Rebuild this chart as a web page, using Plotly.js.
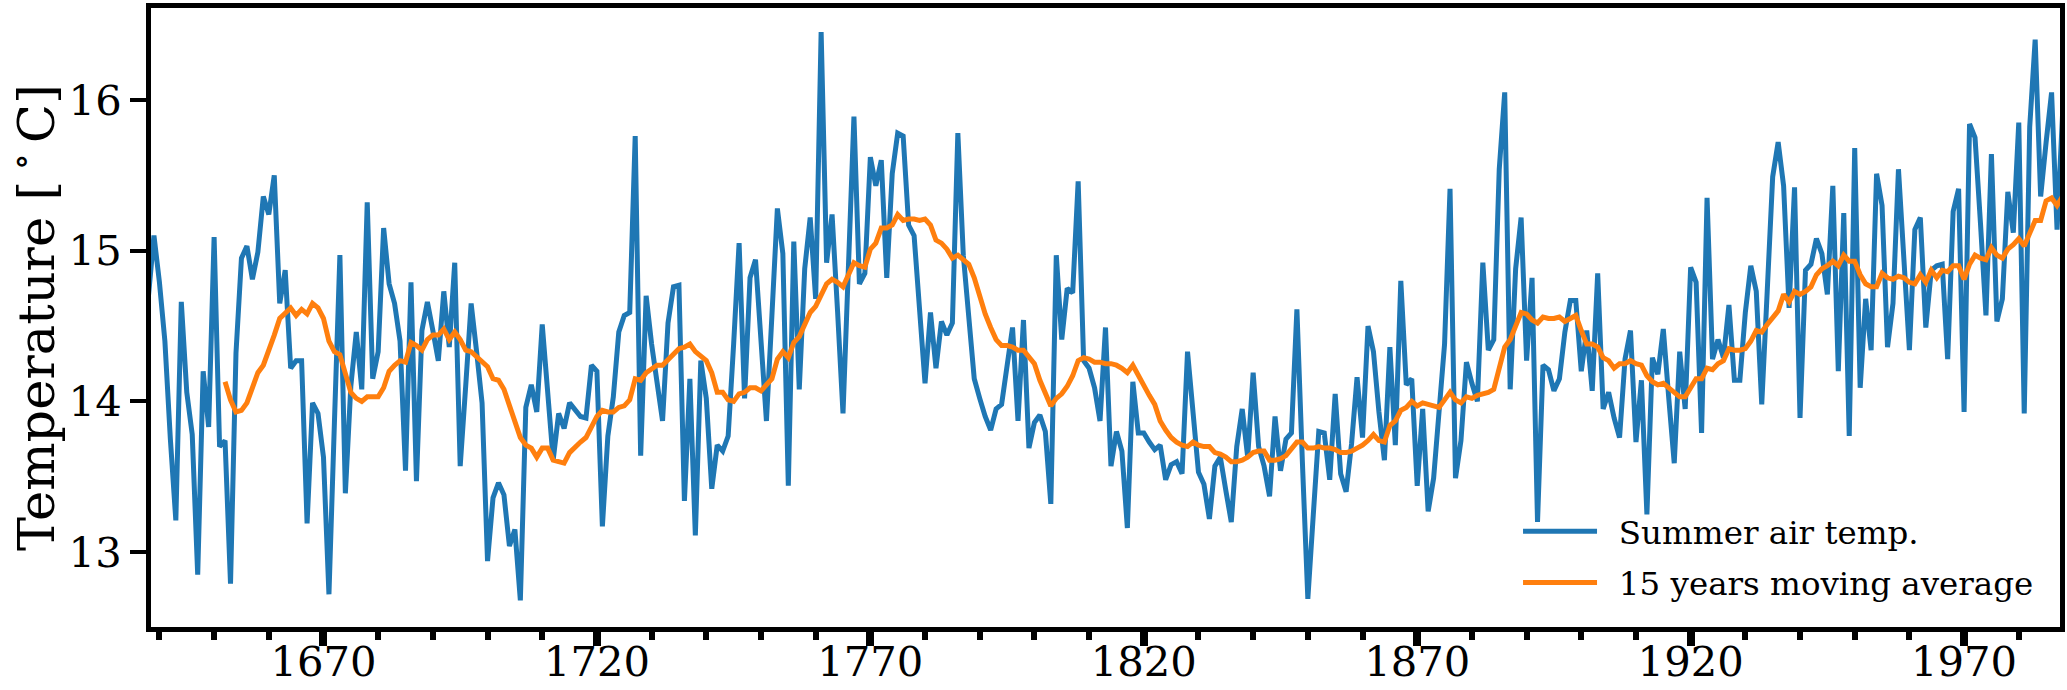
<!DOCTYPE html>
<html><head><meta charset="utf-8">
<script src="https://cdn.plot.ly/plotly-3.0.1.min.js"></script>
<style>html,body{margin:0;padding:0;background:#fff}#chart{width:2067px;height:690px}</style>
</head><body><div id="chart"></div>
<script>
// Summer air temperature, yearly values starting in 1638
const tempStartYear = 1638;
const summerAirTemp = [
14.70,15.10,14.79,14.40,13.75,13.21,14.66,14.06,13.78,12.85,
14.20,13.83,15.09,13.70,13.74,12.79,14.32,14.95,15.03,14.81,
14.99,15.36,15.24,15.50,14.65,14.87,14.22,14.27,14.27,13.19,
13.99,13.92,13.63,12.72,13.86,14.97,13.39,14.10,14.46,14.08,
15.32,14.15,14.33,15.15,14.78,14.65,14.40,13.54,14.79,13.47,
14.47,14.66,14.47,14.27,14.73,14.36,14.92,13.57,14.10,14.65,
14.33,13.99,12.94,13.36,13.46,13.38,13.04,13.15,12.68,13.96,
14.11,13.93,14.51,14.05,13.61,13.92,13.82,13.99,13.95,13.90,
13.89,14.24,14.20,13.17,13.77,14.03,14.46,14.57,14.59,15.76,
13.64,14.70,14.38,14.12,13.87,14.52,14.76,14.77,13.34,14.15,
13.11,14.27,14.02,13.42,13.71,13.67,13.77,14.38,15.05,14.02,
14.82,14.94,14.40,13.87,14.57,15.28,14.98,13.44,15.06,14.08,
14.88,15.22,14.68,16.45,14.92,15.24,14.60,13.92,14.90,15.89,
14.78,14.85,15.62,15.43,15.60,14.82,15.51,15.78,15.76,15.17,
15.10,14.60,14.12,14.59,14.22,14.53,14.44,14.52,15.78,14.97,
14.56,14.15,14.02,13.90,13.81,13.95,13.98,14.24,14.49,13.87,
14.54,13.69,13.86,13.91,13.80,13.32,14.97,14.41,14.75,14.72,
15.46,14.27,14.22,14.09,13.87,14.49,13.57,13.80,13.67,13.16,
14.13,13.79,13.79,13.73,13.68,13.71,13.48,13.58,13.60,13.52,
14.33,13.93,13.53,13.45,13.22,13.57,13.63,13.41,13.20,13.70,
13.95,13.63,14.19,13.70,13.57,13.37,13.90,13.54,13.75,13.79,
14.61,13.60,12.69,13.25,13.80,13.79,13.48,14.05,13.52,13.40,
13.72,14.16,13.76,14.50,14.33,13.93,13.61,14.36,13.71,14.80,
14.11,14.15,13.44,13.95,13.27,13.49,13.95,14.38,15.41,13.49,
13.74,14.26,14.12,14.00,14.92,14.34,14.41,15.54,16.05,14.08,
14.88,15.22,14.27,14.82,13.20,14.24,14.21,14.07,14.15,14.46,
14.67,14.67,14.20,14.47,14.07,14.85,13.95,14.06,13.89,13.76,
14.28,14.47,13.73,14.14,13.25,14.29,14.18,14.48,14.02,13.59,
14.33,13.95,14.89,14.79,13.79,15.35,14.28,14.41,14.29,14.64,
14.14,14.14,14.59,14.90,14.73,13.98,14.73,15.49,15.72,15.43,
14.62,15.42,13.89,14.87,14.91,15.08,14.98,14.71,15.43,14.20,
15.25,13.77,15.68,14.09,14.68,14.34,15.51,15.30,14.36,14.65,
15.54,14.91,14.34,15.14,15.22,14.49,14.87,14.90,14.91,14.28,
15.26,15.41,13.93,15.84,15.75,15.18,14.57,15.64,14.53,14.68,
15.39,15.12,15.85,13.92,15.82,16.40,15.36,15.72,16.05,15.14,
15.90
];

// 15 years moving average, yearly values starting in 1652
const avgStartYear = 1652;
const movingAverage15 = [
14.13,14.01,13.93,13.94,13.99,14.08,14.19,14.24,14.33,14.44,
14.55,14.59,14.62,14.57,14.61,14.58,14.65,14.62,14.55,14.40,
14.33,14.31,14.18,14.06,14.02,14.00,14.03,14.03,14.03,14.09,
14.20,14.24,14.27,14.26,14.39,14.37,14.34,14.41,14.44,14.44,
14.48,14.41,14.46,14.41,14.34,14.33,14.30,14.27,14.23,14.15,
14.14,14.08,13.98,13.87,13.76,13.71,13.69,13.63,13.69,13.69,
13.61,13.60,13.59,13.66,13.70,13.73,13.76,13.83,13.90,13.94,
13.93,13.93,13.96,13.97,14.01,14.15,14.14,14.19,14.22,14.24,
14.24,14.28,14.32,14.35,14.36,14.38,14.33,14.30,14.27,14.19,
14.06,14.06,14.01,14.00,14.05,14.06,14.09,14.09,14.07,14.11,
14.15,14.28,14.33,14.29,14.39,14.43,14.52,14.59,14.63,14.71,
14.78,14.81,14.79,14.76,14.84,14.92,14.90,14.89,15.01,15.05,
15.15,15.15,15.17,15.24,15.20,15.21,15.21,15.20,15.21,15.17,
15.07,15.05,15.01,14.95,14.97,14.94,14.91,14.82,14.70,14.58,
14.49,14.41,14.37,14.37,14.36,14.34,14.34,14.30,14.25,14.14,
14.06,13.97,14.02,14.05,14.10,14.17,14.27,14.29,14.28,14.26,
14.26,14.25,14.25,14.24,14.22,14.19,14.24,14.17,14.11,14.04,
13.98,13.87,13.81,13.76,13.73,13.71,13.70,13.73,13.71,13.70,
13.70,13.66,13.65,13.63,13.60,13.60,13.61,13.63,13.66,13.67,
13.67,13.61,13.61,13.62,13.64,13.68,13.73,13.73,13.69,13.69,
13.70,13.69,13.69,13.68,13.66,13.66,13.67,13.69,13.71,13.74,
13.78,13.74,13.73,13.84,13.87,13.94,13.96,14.00,13.97,13.99,
13.98,13.97,13.96,14.01,14.06,14.01,13.99,14.03,14.02,14.04,
14.05,14.06,14.08,14.21,14.36,14.41,14.50,14.59,14.58,14.54,
14.52,14.56,14.55,14.55,14.56,14.53,14.55,14.57,14.47,14.38,
14.38,14.36,14.29,14.27,14.22,14.25,14.25,14.27,14.25,14.24,
14.17,14.13,14.11,14.12,14.09,14.06,14.03,14.03,14.09,14.15,
14.15,14.22,14.21,14.25,14.27,14.35,14.34,14.34,14.35,14.40,
14.47,14.46,14.51,14.55,14.60,14.71,14.66,14.73,14.71,14.73,
14.76,14.84,14.88,14.90,14.93,14.90,14.97,14.93,14.93,14.84,
14.78,14.76,14.76,14.85,14.82,14.81,14.83,14.82,14.79,14.78,
14.84,14.79,14.87,14.82,14.87,14.86,14.90,14.90,14.81,14.91,
14.97,14.95,14.94,15.02,14.97,14.95,15.01,15.04,15.08,15.03,
15.11,15.20,15.20,15.33,15.35,15.30,15.36
];

const xTickVals = [1670, 1720, 1770, 1820, 1870, 1920, 1970];
const yTickVals = [13, 14, 15, 16];
const seriesNames = ['Summer air temp.', '15 years moving average'];
const yTitle = 'Temperature [\u2009<sup>\u2218</sup>\u2009C]';

const tempYears = summerAirTemp.map((_, i) => tempStartYear + i);
const avgYears = movingAverage15.map((_, i) => avgStartYear + i);

const FONT = 'DejaVu Serif, Liberation Serif, serif';
const LEGEND_PAD = '\u00a0\u2009';

const traces = [
  {x: tempYears, y: summerAirTemp, type: 'scatter', mode: 'lines',
   name: LEGEND_PAD + seriesNames[0], legendgroup: 'a',
   line: {color: '#1f77b4', width: 5}},
  {x: avgYears, y: movingAverage15, type: 'scatter', mode: 'lines',
   name: LEGEND_PAD + seriesNames[1], legendgroup: 'b',
   line: {color: '#ff7f0e', width: 5}}
];

const layout = {
  width: 2067, height: 690,
  margin: {l: 150.8, r: 6.7, t: 8, b: 63, pad: 0},
  paper_bgcolor: '#ffffff', plot_bgcolor: '#ffffff',
  font: {family: FONT, color: '#000'},
  showlegend: true,
  legend: {x: 0.7161, y: 0.1992, xanchor: 'left', yanchor: 'top',
    bgcolor: 'rgba(0,0,0,0)', borderwidth: 0, itemwidth: 74,
    tracegroupgap: 6,
    font: {family: FONT, size: 32.5, color: '#000'}},
  xaxis: {
    range: [1638.46, 1987.54], tickmode: 'array', tickvals: xTickVals,
    ticktext: xTickVals.map(String),
    ticks: 'outside', ticklen: 14, tickwidth: 8, tickcolor: '#000',
    ticklabelstandoff: -20,
    showline: true, linewidth: 5, linecolor: '#000', mirror: true,
    showgrid: false, zeroline: false,
    tickfont: {family: FONT, size: 41.7, color: '#000'},
    minor: {tickmode: 'linear', tick0: 1640, dtick: 10, ticks: 'outside',
      ticklen: 8, tickwidth: 6, tickcolor: '#000', showgrid: false}
  },
  yaxis: {
    range: [12.503, 16.61], tickmode: 'array', tickvals: yTickVals,
    ticktext: yTickVals.map(String),
    ticks: 'outside', ticklen: 16, tickwidth: 4, tickcolor: '#000',
    showline: true, linewidth: 5, linecolor: '#000', mirror: true,
    showgrid: false, zeroline: false,
    tickfont: {family: FONT, size: 41.7, color: '#000'},
    title: {text: yTitle, standoff: 40,
      font: {family: FONT, size: 51, color: '#000'}}
  }
};

Plotly.newPlot('chart', traces, layout, {staticPlot: true, displayModeBar: false});
</script>
</body></html>
